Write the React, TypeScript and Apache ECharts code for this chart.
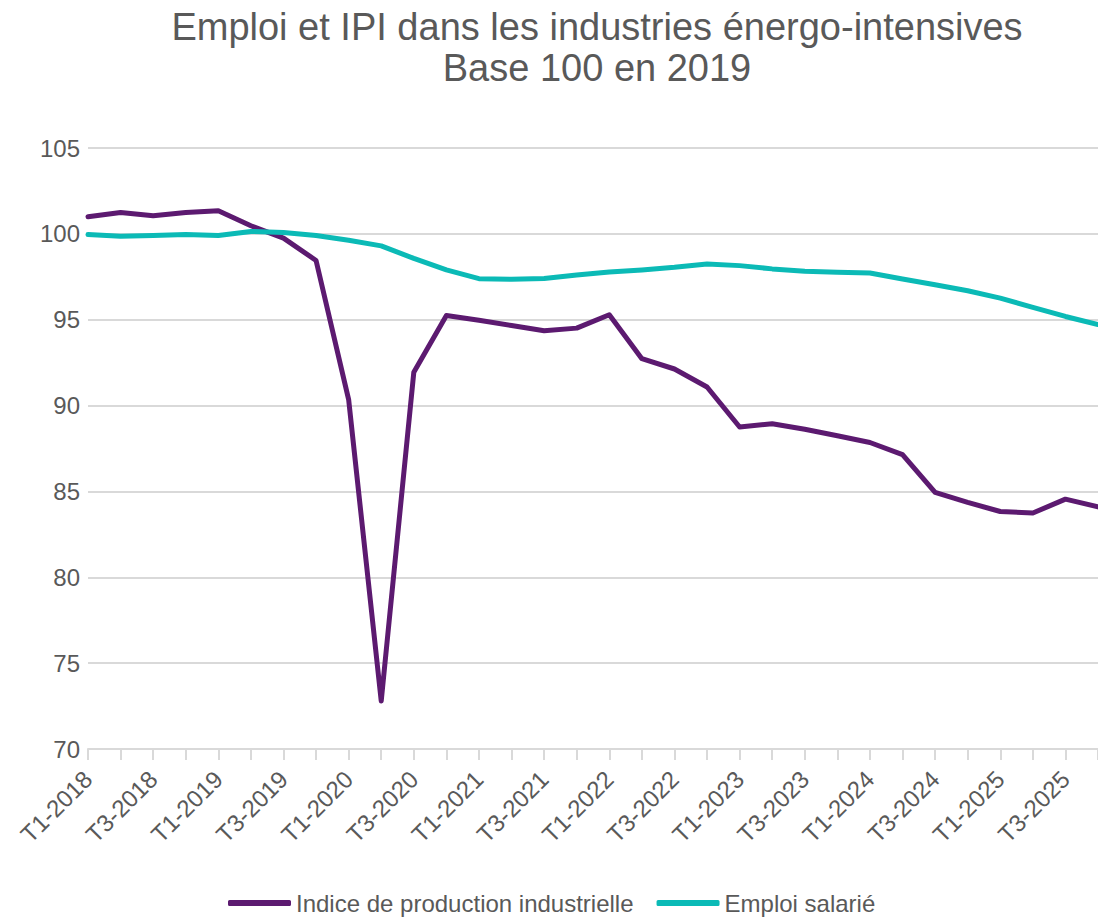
import React, { useEffect, useRef } from "react";
import * as echarts from "echarts";

const categories = [
  "T1-2018", "T2-2018", "T3-2018", "T4-2018",
  "T1-2019", "T2-2019", "T3-2019", "T4-2019",
  "T1-2020", "T2-2020", "T3-2020", "T4-2020",
  "T1-2021", "T2-2021", "T3-2021", "T4-2021",
  "T1-2022", "T2-2022", "T3-2022", "T4-2022",
  "T1-2023", "T2-2023", "T3-2023", "T4-2023",
  "T1-2024", "T2-2024", "T3-2024", "T4-2024",
  "T1-2025", "T2-2025", "T3-2025", "T4-2025",
];

const ipi = [
  101.0, 101.24, 101.05, 101.24,
  101.34, 100.47, 99.75, 98.45,
  90.35, 72.8, 91.94, 95.24,
  94.97, 94.66, 94.36, 94.51,
  95.29, 92.73, 92.13, 91.08,
  88.75, 88.94, 88.62, 88.24,
  87.85, 87.14, 84.94, 84.36,
  83.83, 83.74, 84.55, 84.1,
];

const emploi = [
  99.96, 99.86, 99.9, 99.96,
  99.9, 100.14, 100.08, 99.9,
  99.63, 99.3, 98.57, 97.9,
  97.39, 97.35, 97.4, 97.6,
  97.78, 97.9, 98.05, 98.25,
  98.15, 97.96, 97.82, 97.76,
  97.72, 97.37, 97.04, 96.69,
  96.26, 95.72, 95.19, 94.72,
];

const seriesNames = ["Indice de production industrielle", "Emploi salarié"];
const titleLines = ["Emploi et IPI dans les industries énergo-intensives", "Base 100 en 2019"];

const FONT = "'Liberation Sans', Arial, sans-serif";
const TEXT = "#595959";
const GRID = "#d9d9d9";
const PURPLE = "#5C1A70";
const TEAL = "#0BBAB6";

export default function App() {
  const ref = useRef<HTMLDivElement>(null);
  useEffect(() => {
    if (!ref.current) return;
    const chart = echarts.init(ref.current, null, { renderer: "svg" });
    chart.setOption({
      animation: false,
      backgroundColor: "#ffffff",
      textStyle: { fontFamily: FONT },
      title: {
        text: titleLines.join("\n"),
        left: 597,
        top: 6,
        padding: 0,
        textAlign: "center",
        textStyle: {
          fontFamily: FONT,
          fontSize: 38,
          fontWeight: "normal",
          color: TEXT,
          lineHeight: 41,
        },
      },
      legend: {
        left: 223,
        top: 886,
        icon: "roundRect",
        itemWidth: 63,
        itemHeight: 6,
        itemGap: 23,
        data: seriesNames,
        textStyle: { fontFamily: FONT, fontSize: 24, color: TEXT },
      },
      grid: { left: 88, right: -7, top: 148, bottom: 168, containLabel: false },
      xAxis: {
        type: "category",
        data: categories,
        boundaryGap: false,
        axisLine: { show: true, lineStyle: { color: GRID, width: 2 } },
        axisTick: { show: true, interval: 0, length: 11, lineStyle: { color: GRID, width: 2 } },
        axisLabel: {
          interval: 1,
          rotate: 45,
          margin: 26,
          fontFamily: FONT,
          fontSize: 24,
          color: TEXT,
        },
        splitLine: { show: false },
      },
      yAxis: {
        type: "value",
        min: 70,
        max: 105,
        interval: 5,
        axisLine: { show: false },
        axisTick: { show: false },
        axisLabel: { margin: 8, fontFamily: FONT, fontSize: 24, color: TEXT },
        splitLine: { show: true, lineStyle: { color: GRID, width: 2 } },
      },
      series: [
        {
          name: seriesNames[0],
          type: "line",
          data: ipi,
          symbol: "none",
          color: PURPLE,
          lineStyle: { color: PURPLE, width: 5, cap: "round", join: "round" },
        },
        {
          name: seriesNames[1],
          type: "line",
          data: emploi,
          symbol: "none",
          color: TEAL,
          lineStyle: { color: TEAL, width: 5, cap: "round", join: "round" },
        },
      ],
    });
    return () => chart.dispose();
  }, []);
  return (
    <div
      ref={ref}
      style={{ position: "fixed", left: 0, top: 0, width: 1098, height: 917, background: "#fff" }}
    />
  );
}
